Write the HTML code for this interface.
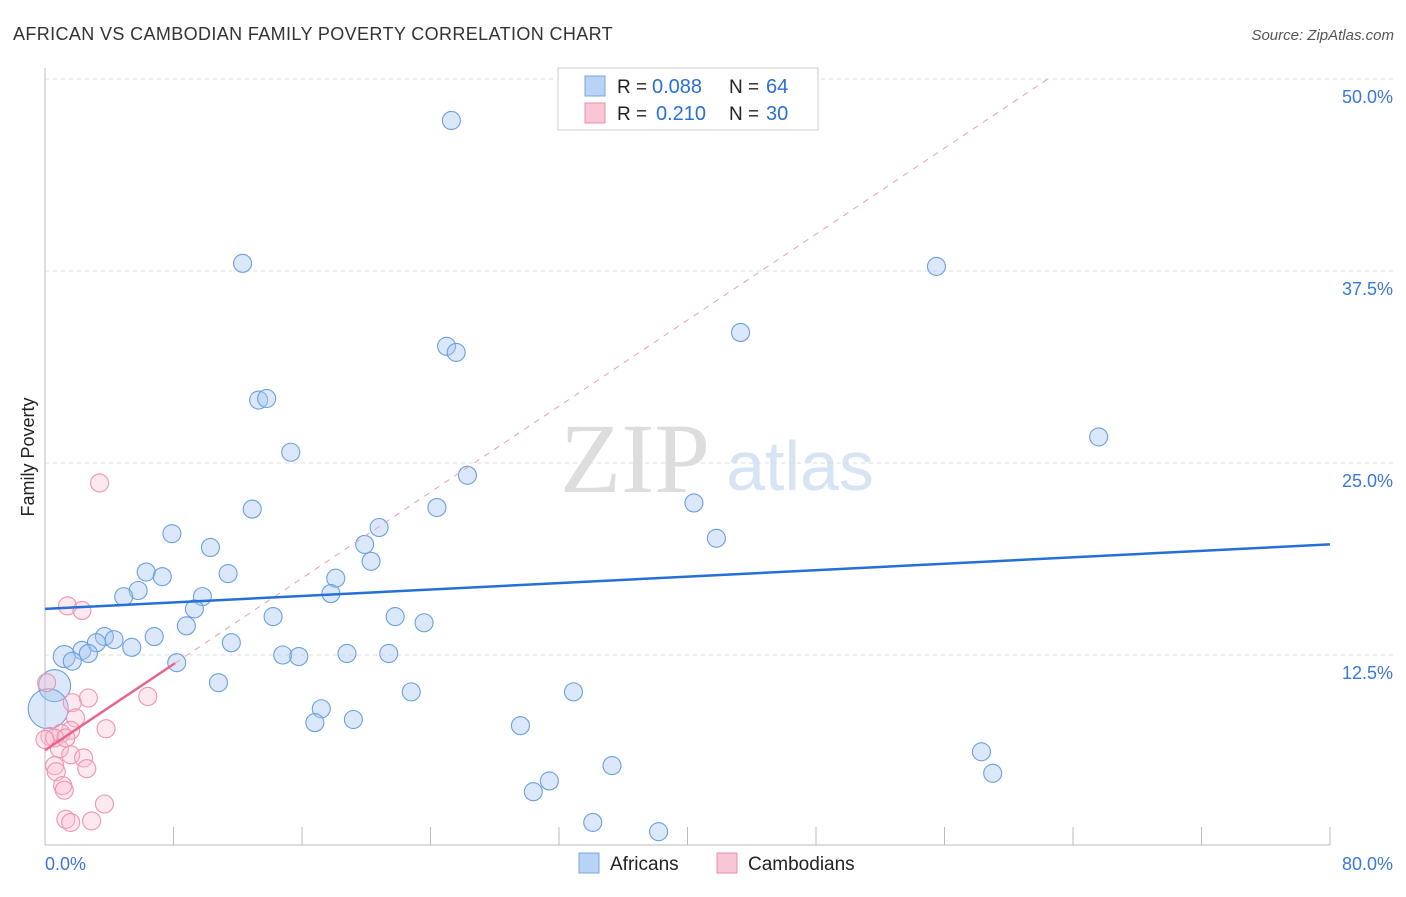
<!DOCTYPE html>
<html><head><meta charset="utf-8"><style>
body{margin:0;background:#fff;font-family:"Liberation Sans",sans-serif}
svg text{font-family:"Liberation Sans",sans-serif}
</style></head><body>
<svg id="c" width="1406" height="892">
<text x="13" y="40" font-size="18" fill="#333" letter-spacing="0.35" textLength="600">AFRICAN VS CAMBODIAN FAMILY POVERTY CORRELATION CHART</text>
<text x="1394" y="40" font-size="15" fill="#555" font-style="italic" text-anchor="end">Source: ZipAtlas.com</text>
<text x="34" y="457" font-size="18" fill="#222" transform="rotate(-90 34 457)" text-anchor="middle">Family Poverty</text>
<text x="635" y="492" font-size="100" fill="#ddd" style="font-family:'Liberation Serif',serif" text-anchor="middle">ZIP</text>
<text x="800" y="490" font-size="70" fill="#d6e4f3" text-anchor="middle">atlas</text>
<g id="grid"></g><g id="marks"></g>
<g>
<rect x="558" y="68" width="260" height="62" fill="#fff" stroke="#ccc"/>
<rect x="585" y="76" width="20" height="20" fill="#b8d3f5" stroke="#7aa7e0"/>
<rect x="585" y="103" width="20" height="20" fill="#f9c6d5" stroke="#eb8fab"/>
<text x="617" y="93" font-size="19" fill="#222">R =</text>
<text x="652" y="93" font-size="20" fill="#2a6fd6">0.088</text>
<text x="729" y="93" font-size="19" fill="#222">N =</text>
<text x="766" y="93" font-size="20" fill="#2a6fd6">64</text>
<text x="617" y="120" font-size="19" fill="#222">R =</text>
<text x="656" y="120" font-size="20" fill="#2a6fd6">0.210</text>
<text x="729" y="120" font-size="19" fill="#222">N =</text>
<text x="766" y="120" font-size="20" fill="#2a6fd6">30</text>
</g>
<g>
<rect x="579" y="853" width="20" height="20" fill="#b8d3f5" stroke="#7aa7e0"/>
<text x="610" y="870" font-size="19" fill="#222">Africans</text>
<rect x="717" y="853" width="20" height="20" fill="#f9c6d5" stroke="#eb8fab"/>
<text x="748" y="870" font-size="19" fill="#222">Cambodians</text>
</g>
</svg>
<script>
const yTicks=[12.5,25,37.5,50];
const yTickLabels=["12.5%","25.0%","37.5%","50.0%"];
const xLabels=["0.0%","80.0%"];
const africansX=[25.3,12.3,55.5,43.3,25.0,25.6,13.3,13.8,65.6,15.3,26.3,40.4,24.4,12.9,7.9,20.8,41.8,19.9,10.3,20.3,6.3,11.4,7.3,18.1,5.8,4.9,9.8,17.8,9.3,14.2,21.8,23.6,8.8,3.7,4.3,3.2,6.8,11.6,5.4,2.3,2.7,1.2,1.7,14.8,15.8,18.8,21.4,8.2,10.8,0.6,0.2,22.8,32.9,17.2,16.8,19.2,29.6,58.3,59.0,35.3,31.4,30.4,34.1,38.2];
const africansY=[47.3,38.0,37.8,33.5,32.6,32.2,29.1,29.2,26.7,25.7,24.2,22.4,22.1,22.0,20.4,20.8,20.1,19.7,19.5,18.6,17.9,17.8,17.6,17.5,16.7,16.3,16.3,16.5,15.5,15.0,15.0,14.6,14.4,13.7,13.5,13.3,13.7,13.3,13.0,12.8,12.6,12.4,12.1,12.5,12.4,12.6,12.6,12.0,10.7,10.5,9.0,10.1,10.1,9.0,8.1,8.3,7.9,6.2,4.8,5.3,4.3,3.6,1.6,1.0];
const africansR=[9,9,9,9,9,9,9,9,9,9,9,9,9,9,9,9,9,9,9,9,9,9,9,9,9,9,9,9,9,9,9,9,9,9,9,9,9,9,9,9,9,11,9,9,9,9,9,9,9,16,20,9,9,9,9,9,9,9,9,9,9,9,9,9];
const cambX=[3.4,1.4,2.3,6.4,2.7,1.7,0.1,1.9,3.8,1.6,1.0,0.3,0.6,0,0.9,1.6,2.4,0.6,2.6,0.7,1.1,1.2,3.7,1.3,1.6,2.9,1.3];
const cambY=[23.7,15.7,15.4,9.8,9.7,9.4,10.7,8.4,7.7,7.6,7.4,7.2,7.1,7.0,6.4,6.0,5.8,5.3,5.1,4.9,4.0,3.7,2.8,1.8,1.6,1.7,7.1];
const blueTrend=[15.5,19.7];
const pinkTrend=[6.3,0.70];
const X=v=>45+v/80*1285, Y=v=>847-v/12.5*192;
const ns="http://www.w3.org/2000/svg";
function mk(t,a,p){const e=document.createElementNS(ns,t);for(const k in a)e.setAttribute(k,a[k]);p.appendChild(e);return e;}
const g=document.getElementById('grid'),m=document.getElementById('marks');
mk('line',{x1:45,y1:68,x2:45,y2:845,stroke:'#bbb'},g);
mk('line',{x1:45,y1:845,x2:1330,y2:845,stroke:'#bbb'},g);
yTicks.forEach((t,i)=>{
 const l=mk('line',{x1:45,y1:Y(t),x2:1394,y2:Y(t),stroke:'#ddd','stroke-dasharray':'4,4'},g);
 
 
 const tx=mk('text',{x:1393,y:Y(t)+24,'font-size':18,fill:'#3a78d6','text-anchor':'end'},g);
 tx.textContent=yTickLabels[i];
 
 
});
for(let i=1;i<=10;i++){const x=45+i*128.5;mk('line',{x1:x,y1:827,x2:x,y2:845,stroke:'#bbb'},g);}
const xl0=mk('text',{x:45,y:870,'font-size':18,fill:'#3a78d6'},g);xl0.textContent=xLabels[0];


const xl1=mk('text',{x:1393,y:870,'font-size':18,fill:'#3a78d6','text-anchor':'end'},g);xl1.textContent=xLabels[1];


africansX.forEach((x,i)=>{
 const c=mk('circle',{cx:X(x),cy:Y(africansY[i]),r:africansR[i],fill:'rgba(164,198,240,0.4)',stroke:'#6a9fe0','stroke-width':1.1},m);
 
 
});
cambX.forEach((x,i)=>{
 const c=mk('circle',{cx:X(x),cy:Y(cambY[i]),r:9,fill:'rgba(248,190,208,0.35)',stroke:'#ef93ae','stroke-width':1.1},m);
 
 
});
const pd=mk('line',{x1:X(8.1),y1:Y(pinkTrend[0]+pinkTrend[1]*8.1),x2:X(62.6),y2:Y(pinkTrend[0]+pinkTrend[1]*62.6),stroke:'#e8a0b5','stroke-dasharray':'6,6','stroke-width':1},m);


const pt=mk('line',{x1:X(0),y1:Y(pinkTrend[0]),x2:X(8.1),y2:Y(pinkTrend[0]+pinkTrend[1]*8.1),stroke:'#e8648c','stroke-width':2.5},m);


const bt=mk('line',{x1:X(0),y1:Y(blueTrend[0]),x2:X(80),y2:Y(blueTrend[1]),stroke:'#2470d6','stroke-width':2.5},m);


</script>
</body></html>
